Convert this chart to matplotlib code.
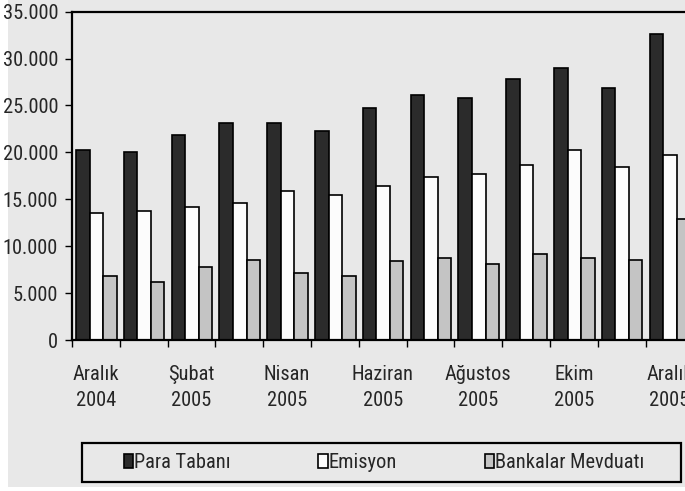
import matplotlib
matplotlib.use('Agg')
import matplotlib.pyplot as plt
import numpy as np
from matplotlib import font_manager
from matplotlib.font_manager import FontProperties
from matplotlib.patches import Rectangle
from matplotlib.textpath import TextPath

# monthly figures, Dec 2004 - Dec 2005
months = ['Aralık\n2004', 'Ocak\n2005', 'Şubat\n2005', 'Mart\n2005', 'Nisan\n2005',
          'Mayıs\n2005', 'Haziran\n2005', 'Temmuz\n2005', 'Ağustos\n2005',
          'Eylül\n2005', 'Ekim\n2005', 'Kasım\n2005', 'Aralık\n2005']
para_tabani = [20200, 20000, 21800, 23100, 23100, 22300, 24700, 26100, 25800,
               27800, 29000, 26900, 32600]
emisyon = [13500, 13800, 14200, 14600, 15900, 15500, 16400, 17400, 17700,
           18700, 20300, 18400, 19700]
bankalar_mevduati = [6800, 6200, 7800, 8500, 7100, 6800, 8400, 8700, 8100,
                     9200, 8700, 8500, 12900]
series_names = ['Para Tabanı', 'Emisyon', 'Bankalar Mevduatı']
series_colors = ['#2b2b2b', '#fcfcfc', '#c4c4c4']
y_ticks = [0, 5000, 10000, 15000, 20000, 25000, 30000, 35000]


def pick_font():
    # narrowest regular sans face on the system
    stems = ('Liberation Sans', 'Roboto', 'Open Sans', 'Noto Sans', 'DejaVu Sans',
             'Lato', 'Inter', 'Arial')
    best = None
    for f in font_manager.fontManager.ttflist:
        if not f.name.startswith(stems) or f.style != 'normal':
            continue
        if any(k in f.name for k in ('Mono', 'Serif', 'CJK', 'Display')):
            continue
        if f.weight not in (400, 'normal', 'regular'):
            continue
        fp = FontProperties(fname=f.fname)
        try:
            wdt = TextPath((0, 0), '35.000', size=100, prop=fp).get_extents().width
            cap = TextPath((0, 0), 'H', size=100, prop=fp).get_extents().height
        except Exception:
            continue
        ratio = wdt / cap
        if best is None or ratio < best[0]:
            best = (ratio, f.fname, cap / 100)
    return best


_, font_file, cap_ratio = pick_font()
# cap height of about 14.5 px at 100 dpi
fsize = 14.5 * 0.72 / cap_ratio
fp = FontProperties(fname=font_file, size=fsize)
txt = '#262626'

W, H = 685, 491
fig = plt.figure(figsize=(W / 100, H / 100), dpi=100)
fig.patch.set_facecolor('white')
fig.add_artist(Rectangle((8 / W, 4 / H), 1, 1, transform=fig.transFigure,
                         facecolor='#e8e8e8', edgecolor='none', zorder=-5))

# plot area runs past the right edge of the figure
ax = fig.add_axes([72 / W, 151 / H, 621.4 / W, 328.4 / H])
ax.set_facecolor('none')

x = np.arange(len(months))
w = 0.283
off = 0.085
for j, (vals, name, col) in enumerate(zip([para_tabani, emisyon, bankalar_mevduati],
                                          series_names, series_colors)):
    ax.bar(x + off + j * w, vals, w, align='edge', color=col, edgecolor='black',
           linewidth=1.2, label=name)

ax.set_xlim(0, len(months))
ax.set_ylim(0, 35000)
ax.set_yticks(y_ticks, [f'{v:,}'.replace(',', '.') for v in y_ticks],
              fontproperties=fp, color=txt)

ax.set_xticks(np.arange(0, len(months) + 1))
ax.set_xticklabels([])
ax.set_xticks(x[::2] + 0.5, months[::2], minor=True, fontproperties=fp,
              color=txt, linespacing=1.5)
ax.tick_params(axis='x', which='major', direction='out', length=5, width=1, color='black')
ax.tick_params(axis='x', which='minor', length=0, pad=18)
ax.tick_params(axis='y', direction='out', length=5, width=1, color='black', pad=5)

for side in ['left', 'top', 'bottom']:
    ax.spines[side].set_linewidth(1.6)
    ax.spines[side].set_color('black')
ax.spines['right'].set_visible(False)

handles, labels = ax.get_legend_handles_labels()
leg = fig.legend(handles, labels, loc='center', bbox_to_anchor=(384 / W, 1 - 462.5 / H),
                 ncol=3, frameon=False, prop=fp, handlelength=0.45, handleheight=0.65,
                 handletextpad=0.05, columnspacing=4.3)
for t in leg.get_texts():
    t.set_color(txt)
fig.add_artist(Rectangle((82 / W, 9 / H), 599 / W, 39 / H, transform=fig.transFigure,
                         fill=False, edgecolor='black', linewidth=1.6))

fig.savefig('out.png', dpi=100, facecolor=fig.get_facecolor())
